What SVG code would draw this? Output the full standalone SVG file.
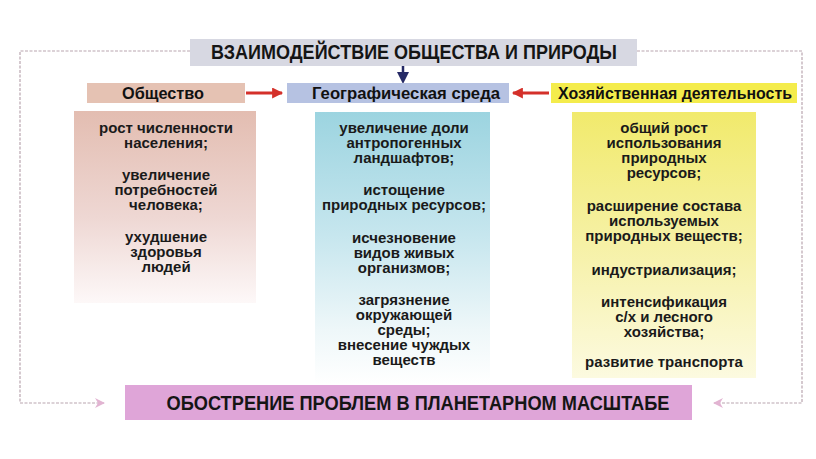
<svg xmlns="http://www.w3.org/2000/svg" width="816" height="459" viewBox="0 0 816 459">
<defs>
<style>
.hdr{font-family:"Liberation Sans",Arial,sans-serif;font-size:20px;font-weight:bold;fill:#151515;text-anchor:middle}
.sub{font-family:"Liberation Sans",Arial,sans-serif;font-size:17px;font-weight:bold;fill:#111;text-anchor:middle}
.col{font-family:"Liberation Sans",Arial,sans-serif;font-size:15px;font-weight:bold;fill:#1a1a1a;text-anchor:middle}
.dash{fill:none;stroke:#b9a6b0;stroke-width:1.2;stroke-dasharray:3 1.5}
.red{stroke:#d4302a;stroke-width:3;fill:none}
</style>
<linearGradient id="gL" x1="0" y1="0" x2="0" y2="1">
<stop offset="0" stop-color="#e3bdb1"/>
<stop offset="0.55" stop-color="#eed7d3"/>
<stop offset="1" stop-color="#fdf8f8"/>
</linearGradient>
<linearGradient id="gM" x1="0" y1="0" x2="0" y2="1">
<stop offset="0" stop-color="#9cd4e0"/>
<stop offset="0.45" stop-color="#c6e6ee"/>
<stop offset="0.8" stop-color="#eef7f9"/>
<stop offset="1" stop-color="#ffffff"/>
</linearGradient>
<linearGradient id="gR" x1="0" y1="0" x2="0" y2="1">
<stop offset="0" stop-color="#f1ea6c"/>
<stop offset="0.5" stop-color="#f6f1a6"/>
<stop offset="1" stop-color="#fcfae0"/>
</linearGradient>
<marker id="pinkHead" viewBox="0 0 10 10" refX="9" refY="5" markerWidth="10" markerHeight="10" markerUnits="userSpaceOnUse" orient="auto">
<path d="M0,0 L10,5 L0,10 L3,5 Z" fill="#e2b4d2"/>
</marker>
<marker id="redHead" viewBox="0 0 10 10" refX="9" refY="5" markerWidth="13" markerHeight="11" markerUnits="userSpaceOnUse" orient="auto">
<path d="M0,0 L10,5 L0,10 Z" fill="#d4302a"/>
</marker>
</defs>
<rect width="816" height="459" fill="#ffffff"/>

<g id="connectors">
<path class="dash" d="M190,51 H20 V403 H104" marker-end="url(#pinkHead)"/>
<path class="dash" d="M637,51 H802 V403 H714" marker-end="url(#pinkHead)"/>
<line class="red" x1="246" y1="93" x2="282" y2="93" marker-end="url(#redHead)"/>
<line class="red" x1="549" y1="93" x2="513" y2="93" marker-end="url(#redHead)"/>
<line x1="403" y1="65" x2="403" y2="74" stroke="#262a66" stroke-width="2.5"/>
<path d="M397,72 L409,72 L403,84 Z" fill="#262a66"/>
</g>

<g id="title">
<rect x="190" y="39" width="447" height="27" fill="#d7d8e2"/>
<text class="hdr" x="414" y="59" textLength="406" lengthAdjust="spacingAndGlyphs">ВЗАИМОДЕЙСТВИЕ ОБЩЕСТВА И ПРИРОДЫ</text>
</g>

<g id="society">
<rect x="87" y="83" width="158" height="20" fill="#e5c2b3"/>
<text class="sub" x="163" y="99" textLength="82" lengthAdjust="spacingAndGlyphs">Общество</text>
</g>

<g id="geo">
<rect x="287" y="83" width="222" height="20" fill="#b6c2e2"/>
<text class="sub" x="406" y="99" textLength="188" lengthAdjust="spacingAndGlyphs">Географическая среда</text>
</g>

<g id="economy">
<rect x="551" y="83" width="246" height="20" fill="#f4ec4c"/>
<text class="sub" x="675" y="99" textLength="234" lengthAdjust="spacingAndGlyphs">Хозяйственная деятельность</text>
</g>

<g id="col-society">
<rect x="74" y="111" width="182" height="192" fill="url(#gL)"/>
<text class="col" x="166" y="133">рост численности</text>
<text class="col" x="166" y="148">населения;</text>
<text class="col" x="166" y="180">увеличение</text>
<text class="col" x="166" y="195">потребностей</text>
<text class="col" x="166" y="210">человека;</text>
<text class="col" x="166" y="242">ухудшение</text>
<text class="col" x="166" y="257">здоровья</text>
<text class="col" x="166" y="272">людей</text>
</g>

<g id="col-geo">
<rect x="315" y="112" width="175" height="272" fill="url(#gM)"/>
<text class="col" x="404" y="133">увеличение доли</text>
<text class="col" x="404" y="148">антропогенных</text>
<text class="col" x="404" y="163">ландшафтов;</text>
<text class="col" x="404" y="195">истощение</text>
<text class="col" x="404" y="210">природных ресурсов;</text>
<text class="col" x="404" y="243">исчезновение</text>
<text class="col" x="404" y="258">видов живых</text>
<text class="col" x="404" y="273">организмов;</text>
<text class="col" x="404" y="305">загрязнение</text>
<text class="col" x="404" y="320">окружающей</text>
<text class="col" x="404" y="335">среды;</text>
<text class="col" x="404" y="350">внесение чуждых</text>
<text class="col" x="404" y="365">веществ</text>
</g>

<g id="col-economy">
<rect x="572" y="112" width="184" height="266" fill="url(#gR)"/>
<text class="col" x="664" y="133">общий рост</text>
<text class="col" x="664" y="148">использования</text>
<text class="col" x="664" y="163">природных</text>
<text class="col" x="664" y="178">ресурсов;</text>
<text class="col" x="664" y="211">расширение состава</text>
<text class="col" x="664" y="226">используемых</text>
<text class="col" x="664" y="241">природных веществ;</text>
<text class="col" x="664" y="275">индустриализация;</text>
<text class="col" x="664" y="307">интенсификация</text>
<text class="col" x="664" y="322">с/х и лесного</text>
<text class="col" x="664" y="337">хозяйства;</text>
<text class="col" x="664" y="367">развитие транспорта</text>
</g>

<g id="result">
<rect x="125" y="385" width="567" height="35" fill="#dfa5d8"/>
<text class="hdr" x="418" y="410" textLength="503" lengthAdjust="spacingAndGlyphs">ОБОСТРЕНИЕ ПРОБЛЕМ В ПЛАНЕТАРНОМ МАСШТАБЕ</text>
</g>
</svg>
